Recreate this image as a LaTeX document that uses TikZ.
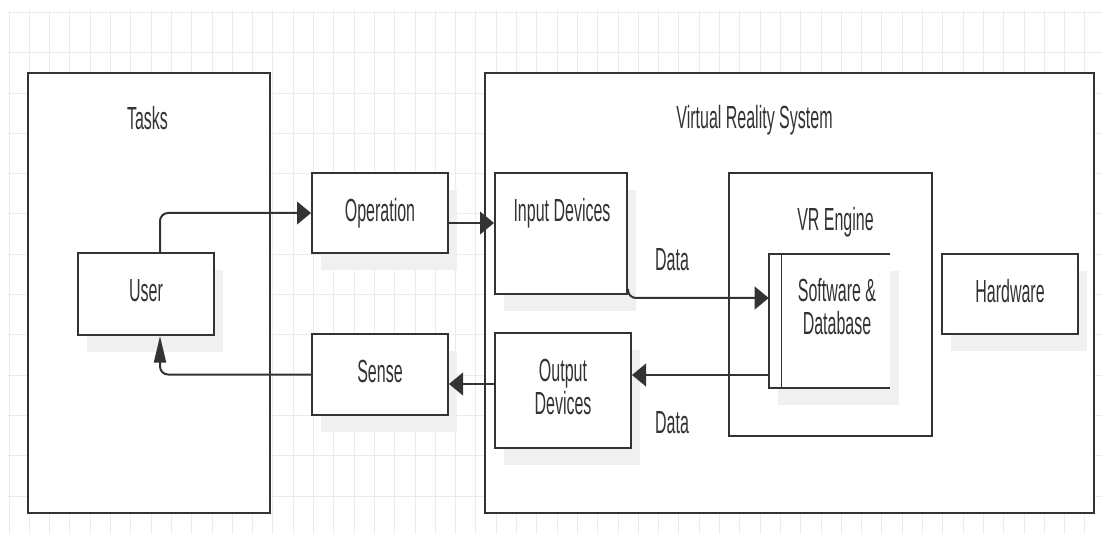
\documentclass[tikz,border=0pt]{standalone}
\usepackage{fontspec}
\newfontfamily\vrfont{Liberation Sans}[FakeStretch=0.5]
\usetikzlibrary{arrows.meta,calc,shadows}
\definecolor{vrLine}{HTML}{333333}
\definecolor{vrText}{HTML}{333333}
\definecolor{vrGrid}{HTML}{EBEBEB}
\definecolor{vrShadow}{HTML}{F0F0F0}
\tikzset{
  blk/.style={rectangle, draw=vrLine, line width=1.5pt, fill=white},
  sz/.style 2 args={minimum width=#1*0.75pt, minimum height=#2*0.75pt},
  shd/.style={drop shadow={shadow xshift=6.75pt, shadow yshift=-12.75pt, fill=vrShadow, opacity=1}},
  item/.style={blk, shd, font=\vrfont\fontsize{24}{24.75}\selectfont, text=vrText,
               align=center, text depth=5.2pt},
  ttl/.style={font=\vrfont\fontsize{24}{24.75}\selectfont, text=vrText, inner sep=0pt, anchor=base},
  flow/.style={draw=vrLine, line width=1.5pt, rounded corners=6pt,
               -{Triangle[length=10.5pt,width=17pt]}},
  flowup/.style={flow, -{Triangle[length=20pt,width=9pt]}},
}

\begin{document}
\begin{tikzpicture}[x=0.75pt, y=-0.75pt]
  \useasboundingbox (0,0) rectangle (1102,534);
  % grid
  \foreach \i in {0,...,53}
    \draw[vrGrid, line width=0.75pt] ({9+20.3*\i},10) -- ({9+20.3*\i},534);
  \foreach \j in {0,...,12}
    \draw[vrGrid, line width=0.75pt] (8,{12.5+40.3*\j}) -- (1102,{12.5+40.3*\j});

  % containers
  \node[blk, sz={242}{440}] (tasks) at (149,293) {};
  \node[blk, sz={609}{440}] (vrsys) at (789.5,293) {};
  \node[blk, sz={203}{263}] (engine) at (830.5,304.5) {};

  % blocks
  \node[item, sz={136}{82}] (user) at (146,294) {User};
  \node[item, sz={136}{80}] (op) at (380,213) {Operation};
  \node[item, sz={136}{81}] (sense) at (380,374.5) {Sense};
  \node[item, sz={132}{121}] (inp) at (561,233.5) {};
  \node[item, sz={136}{115}] (outp) at (563,390.5) {Output\\Devices};
  \node[item, sz={136}{80}] (hw) at (1010,294) {Hardware};
  \node[fill=white, shd, sz={121}{134}] (soft) at (829.5,321) {};
  \draw[line width=1.5pt, draw=vrLine] (soft.north east) -- (soft.north west)
    -- (soft.south west) -- (soft.south east);
  \draw[line width=0.9pt, draw=vrLine] ([xshift=9.75pt]soft.north west)
    -- ([xshift=9.75pt]soft.south west);

  % titles
  \node[ttl] (taskslbl) at (147.5,130) {Tasks};
  \node[ttl] (vrsyslbl) at (754.5,129) {Virtual Reality System};
  \node[ttl] (inplbl) at (562,222) {Input Devices};
  \node[ttl] (enginelbl) at (835.5,231) {VR Engine};
  \node[ttl, anchor=center, align=center] (softlbl) at (837,306.5) {Software \&\\Database};
  \node[ttl] (datain) at (672,271) {Data};
  \node[ttl] (dataout) at (672,433) {Data};

  % connectors
  \coordinate (opout) at ([yshift=-7.5pt]op.east);
  \coordinate (inpout) at ([yshift=4.5pt]inp.south east);
  \coordinate (softin) at ([yshift=17.25pt]soft.west);
  \coordinate (softout) at ([yshift=-40.5pt]soft.west);
  \coordinate (outout) at ([yshift=4.875pt]outp.west);
  \draw[flow] ([xshift=10.5pt]user.north) |- (op.west);
  \draw[flow] (opout) -- (opout -| inp.west);
  \draw[flow] (inpout) |- (softin);
  \draw[flow] (softout) -- (softout -| outp.east);
  \draw[flow] (outout) -- (outout -| sense.east);
  \draw[flowup] (sense.west) -| ([xshift=10.5pt]user.south);
\end{tikzpicture}
\end{document}
